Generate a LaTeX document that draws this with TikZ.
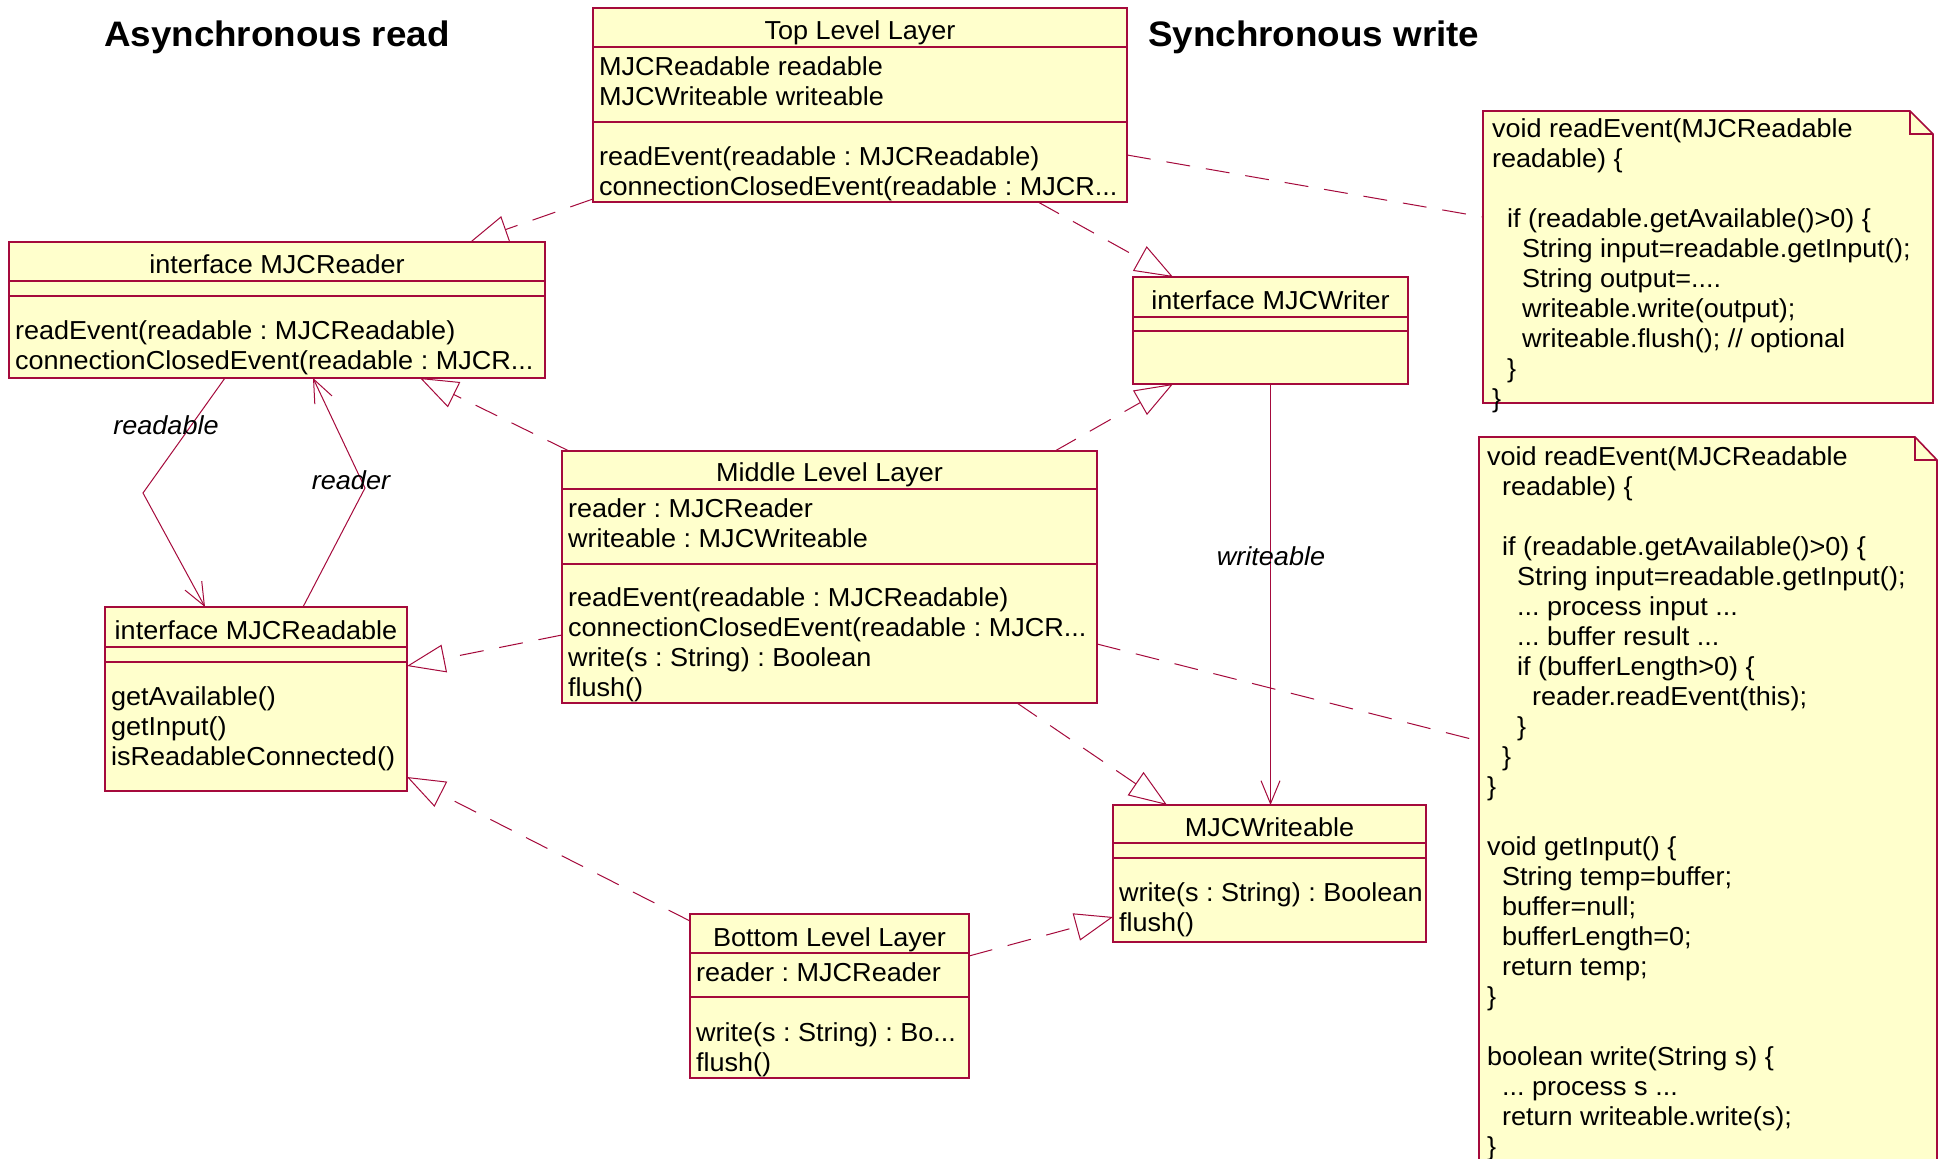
\documentclass[tikz,border=0pt]{standalone}
\usepackage{fontspec}
\setmainfont{Liberation Sans}[FakeStretch=1.04]
\usetikzlibrary{arrows.meta,calc}
\frenchspacing

\definecolor{umlline}{RGB}{165,10,60}
\definecolor{umlfill}{RGB}{255,255,204}
\newcommand{\firstrow}{\rule{0pt}{10pt}}
\newcommand{\codeindent}{\hspace*{7.5pt}}

\begin{document}
\begin{tikzpicture}[x=0.5pt,y=-0.5pt,
  every node/.style={inner sep=0pt,outer sep=0pt,font=\fontsize{13pt}{15pt}\selectfont},
  classbox/.style={draw=umlline,fill=umlfill,line width=0.8pt,anchor=north west},
  notebox/.style={anchor=north west},
  boxline/.style={draw=umlline,line width=0.8pt},
  classname/.style={anchor=base},
  members/.style={anchor=north west,align=left},
  realize/.style={draw=umlline,line width=0.5pt,dash pattern=on 12pt off 8pt,
    -{Triangle[open,length=19pt,width=14pt]}},
  assoc/.style={draw=umlline,line width=0.5pt,-{Straight Barb[length=11.5pt,width=9.5pt]}},
  noteline/.style={draw=umlline,line width=0.5pt,dash pattern=on 12pt off 8pt},
  rolelabel/.style={font=\fontsize{13pt}{15pt}\selectfont\itshape},
  heading/.style={anchor=west,font=\fontsize{17.7pt}{20pt}\selectfont\bfseries}]
  \useasboundingbox (0,0) rectangle (1938,1159);
  \fill[white] (0,0) rectangle (1938,1159);

  \node[heading] (readhead) at (104,37) {Asynchronous read};
  \node[heading] (writehead) at (1148,37) {Synchronous write};

  % Top Level Layer
  \node[classbox,minimum width=267pt,minimum height=97pt] (toplayer) at (593,8) {};
  \draw[boxline] (toplayer.west |- 0,47) -- (toplayer.east |- 0,47);
  \draw[boxline] (toplayer.west |- 0,122) -- (toplayer.east |- 0,122);
  \node[classname] (toplayer-name) at (toplayer.north |- 0,40) {Top Level Layer};
  \node[members] (toplayer-attr) at (599,56) {\firstrow MJCReadable readable\\MJCWriteable writeable};
  \node[members] (toplayer-ops) at (599,146) {\firstrow readEvent(readable : MJCReadable)\\
    connectionClosedEvent(readable : MJCR...};

  % interface MJCReader
  \node[classbox,minimum width=268pt,minimum height=68pt] (reader) at (9,242) {};
  \draw[boxline] (reader.west |- 0,281) -- (reader.east |- 0,281);
  \draw[boxline] (reader.west |- 0,296) -- (reader.east |- 0,296);
  \node[classname] (reader-name) at (reader.north |- 0,274) {interface MJCReader};
  \node[members] (reader-ops) at (15,320) {\firstrow readEvent(readable : MJCReadable)\\
    connectionClosedEvent(readable : MJCR...};

  % interface MJCWriter
  \node[classbox,minimum width=137.5pt,minimum height=53.5pt] (writer) at (1133,277) {};
  \draw[boxline] (writer.west |- 0,317) -- (writer.east |- 0,317);
  \draw[boxline] (writer.west |- 0,331) -- (writer.east |- 0,331);
  \node[classname] (writer-name) at (writer.north |- 0,310) {interface MJCWriter};

  % Middle Level Layer
  \node[classbox,minimum width=267.5pt,minimum height=126pt] (middle) at (562,451) {};
  \draw[boxline] (middle.west |- 0,489) -- (middle.east |- 0,489);
  \draw[boxline] (middle.west |- 0,564) -- (middle.east |- 0,564);
  \node[classname] (middle-name) at (middle.north |- 0,482) {Middle Level Layer};
  \node[members] (middle-attr) at (568,498) {\firstrow reader : MJCReader\\writeable : MJCWriteable};
  \node[members] (middle-ops) at (568,587) {\firstrow readEvent(readable : MJCReadable)\\
    connectionClosedEvent(readable : MJCR...\\write(s : String) : Boolean\\flush()};

  % interface MJCReadable
  \node[classbox,minimum width=151pt,minimum height=92pt] (readable) at (105,607) {};
  \draw[boxline] (readable.west |- 0,647) -- (readable.east |- 0,647);
  \draw[boxline] (readable.west |- 0,662) -- (readable.east |- 0,662);
  \node[classname] (readable-name) at (readable.north |- 0,640) {interface MJCReadable};
  \node[members] (readable-ops) at (111,686) {\firstrow getAvailable()\\getInput()\\isReadableConnected()};

  % MJCWriteable
  \node[classbox,minimum width=156.5pt,minimum height=68.5pt] (writeable) at (1113,805) {};
  \draw[boxline] (writeable.west |- 0,843) -- (writeable.east |- 0,843);
  \draw[boxline] (writeable.west |- 0,858) -- (writeable.east |- 0,858);
  \node[classname] (writeable-name) at (writeable.north |- 0,836) {MJCWriteable};
  \node[members] (writeable-ops) at (1119,881) {\firstrow write(s : String) : Boolean\\flush()};

  % Bottom Level Layer
  \node[classbox,minimum width=139.5pt,minimum height=82pt] (bottom) at (690,914) {};
  \draw[boxline] (bottom.west |- 0,953) -- (bottom.east |- 0,953);
  \draw[boxline] (bottom.west |- 0,997) -- (bottom.east |- 0,997);
  \node[classname] (bottom-name) at (bottom.north |- 0,946) {Bottom Level Layer};
  \node[members] (bottom-attr) at (696,961) {\firstrow reader : MJCReader};
  \node[members] (bottom-ops) at (696,1021) {\firstrow write(s : String) : Bo...\\flush()};

  % notes
  \node[notebox,minimum width=225pt,minimum height=146pt] (note1) at (1483,111) {};
  \filldraw[draw=umlline,fill=umlfill,line width=0.8pt] (note1.north west)
    -- ($(note1.north east)+(-23,0)$) -- ($(note1.north east)+(0,23)$)
    -- (note1.south east) -- (note1.south west) -- cycle;
  \draw[boxline] ($(note1.north east)+(-23,0)$) |- ($(note1.north east)+(0,23)$);
  \node[members] (note1-text) at (1492,118) {\firstrow void readEvent(MJCReadable\\
    readable) \{\\
    \mbox{}\\
    \codeindent if (readable.getAvailable()>0) \{\\
    \codeindent\codeindent String input=readable.getInput();\\
    \codeindent\codeindent String output=....\\
    \codeindent\codeindent writeable.write(output);\\
    \codeindent\codeindent writeable.flush(); // optional\\
    \codeindent \}\\
    \}};

  \node[notebox,minimum width=229pt,minimum height=374pt] (note2) at (1479,437) {};
  \filldraw[draw=umlline,fill=umlfill,line width=0.8pt] (note2.north west)
    -- ($(note2.north east)+(-22,0)$) -- ($(note2.north east)+(0,23)$)
    -- (note2.south east) -- (note2.south west) -- cycle;
  \draw[boxline] ($(note2.north east)+(-22,0)$) |- ($(note2.north east)+(0,23)$);
  \node[members] (note2-text) at (1487,445) {\firstrow void readEvent(MJCReadable\\
    \codeindent readable) \{\\
    \mbox{}\\
    \codeindent if (readable.getAvailable()>0) \{\\
    \codeindent\codeindent String input=readable.getInput();\\
    \codeindent\codeindent ... process input ...\\
    \codeindent\codeindent ... buffer result ...\\
    \codeindent\codeindent if (bufferLength>0) \{\\
    \codeindent\codeindent\codeindent reader.readEvent(this);\\
    \codeindent\codeindent \}\\
    \codeindent \}\\
    \}\\
    \mbox{}\\
    void getInput() \{\\
    \codeindent String temp=buffer;\\
    \codeindent buffer=null;\\
    \codeindent bufferLength=0;\\
    \codeindent return temp;\\
    \}\\
    \mbox{}\\
    boolean write(String s) \{\\
    \codeindent ... process s ...\\
    \codeindent return writeable.write(s);\\
    \}};

  % realizations and note links
  \draw[realize] (toplayer.west |- 0,199) -- (reader.north -| 470,0);
  \draw[realize] (toplayer.south -| 1038,0) -- (writer.north -| 1173,0);
  \draw[noteline] (toplayer.east |- 0,155) -- (note1.west |- 0,217);
  \draw[realize] (middle.north -| 569,0) -- (reader.south -| 420,0);
  \draw[realize] (middle.north -| 1055,0) -- (writer.south -| 1173,0);
  \draw[realize] (middle.west |- 0,635) -- (readable.east |- 0,666);
  \draw[realize] (middle.south -| 1017,0) -- (writeable.north -| 1167,0);
  \draw[noteline] (middle.east |- 0,644) -- (note2.west |- 0,741);
  \draw[realize] (bottom.west |- 0,921) -- (readable.east |- 0,777);
  \draw[realize] (bottom.east |- 0,956) -- (writeable.west |- 0,917);

  % associations
  \coordinate (readbend) at (143,493);
  \coordinate (readerbend) at (365,488);
  \draw[assoc] (reader.south -| 225,0) -- (readbend) -- (readable.north -| 205,0);
  \draw[assoc] (readable.north -| 303,0) -- (readerbend) -- (reader.south -| 313,0);
  \draw[assoc] (writer.south) -- (writer.south |- writeable.north);
  \node[rolelabel] (readable-role) at (166,425) {readable};
  \node[rolelabel] (reader-role) at (351,480) {reader};
  \node[rolelabel] (writeable-role) at (1271,556) {writeable};
\end{tikzpicture}
\end{document}
